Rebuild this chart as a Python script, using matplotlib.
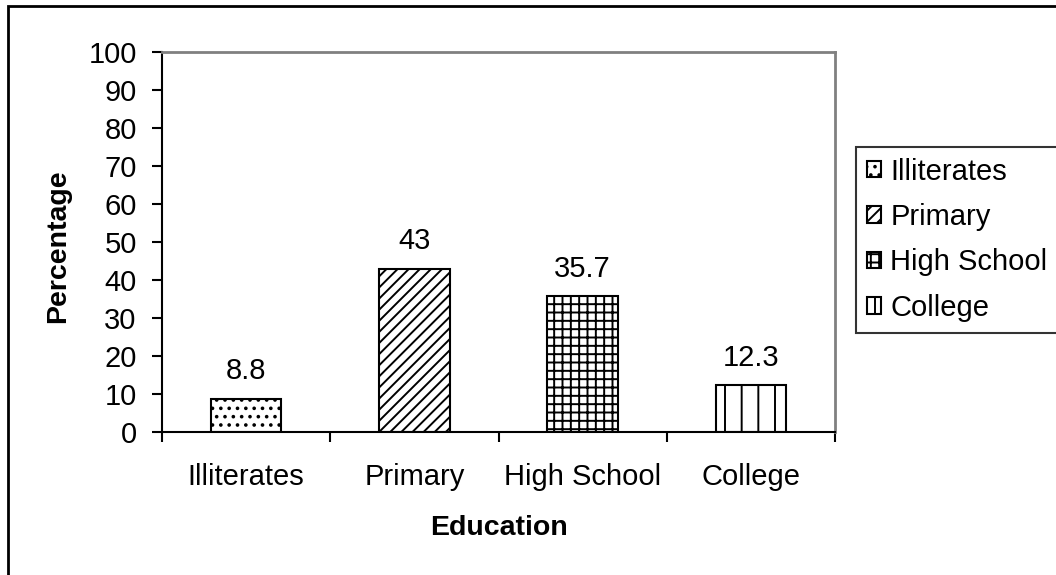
import matplotlib.pyplot as plt
from matplotlib.patches import Rectangle

plt.rcParams['font.family'] = ['Liberation Sans', 'DejaVu Sans']
plt.rcParams['hatch.linewidth'] = 1.4

categories = ["Illiterates", "Primary", "High School", "College"]
values = [8.8, 43, 35.7, 12.3]
labels = ["8.8", "43", "35.7", "12.3"]
hatches = ["..", "///", "++", "|"]
yticks = list(range(0, 101, 10))

fig = plt.figure(figsize=(10.56, 5.75), dpi=100)
ax = fig.add_axes([162 / 1056, 1 - 432 / 575, (835 - 162) / 1056, (432 - 52) / 575])

x = range(len(categories))
bars = ax.bar(x, values, width=0.42, color="white", edgecolor="black",
              linewidth=1.5, hatch=hatches, label=categories)

for b, txt in zip(bars, labels):
    ax.annotate(txt, (b.get_x() + b.get_width() / 2, b.get_height()),
                xytext=(0, 9.5), textcoords="offset points",
                ha="center", va="bottom", fontsize=21)

ax.set_xlim(-0.5, 3.5)
ax.set_ylim(0, 100)
ax.set_yticks(yticks)
ax.set_xticks(list(x))
ax.set_xticklabels(categories)
ax.set_xticks([i - 0.5 for i in range(len(categories) + 1)], minor=True)
ax.tick_params(axis="x", which="major", length=0, pad=22, labelsize=21)
ax.tick_params(axis="x", which="minor", length=7.5, width=1.5, direction="out")
ax.tick_params(axis="y", length=7.2, width=1.5, direction="out", pad=11, labelsize=21)

for side in ("left", "bottom"):
    ax.spines[side].set_color("black")
    ax.spines[side].set_linewidth(1.5)
for side in ("top", "right"):
    ax.spines[side].set_color("#808080")
    ax.spines[side].set_linewidth(2)

fig.text(58 / 1056, 1 - 246 / 575, "Percentage", rotation=90, ha="center",
         va="center", fontsize=20.5, fontweight="bold")
fig.text(499 / 1056, 1 - 528 / 575, "Education", ha="center", va="center",
         fontsize=20.5, fontweight="bold")

leg = fig.legend(handles=list(bars), labels=categories, loc="upper left",
                 bbox_to_anchor=(856 / 1056, 1 - 147 / 575), fontsize=21,
                 frameon=True, fancybox=False, edgecolor="black",
                 handlelength=0.5, handleheight=0.5, handletextpad=0.32,
                 borderpad=0.36, labelspacing=0.6, borderaxespad=0)
leg.get_frame().set_linewidth(1.5)

fig.patches.append(Rectangle((8 / 1056, -0.1), 1.2, 1.1 - 6 / 575,
                             transform=fig.transFigure, fill=False,
                             edgecolor="black", linewidth=2))

fig.savefig("out.png", dpi=100)
